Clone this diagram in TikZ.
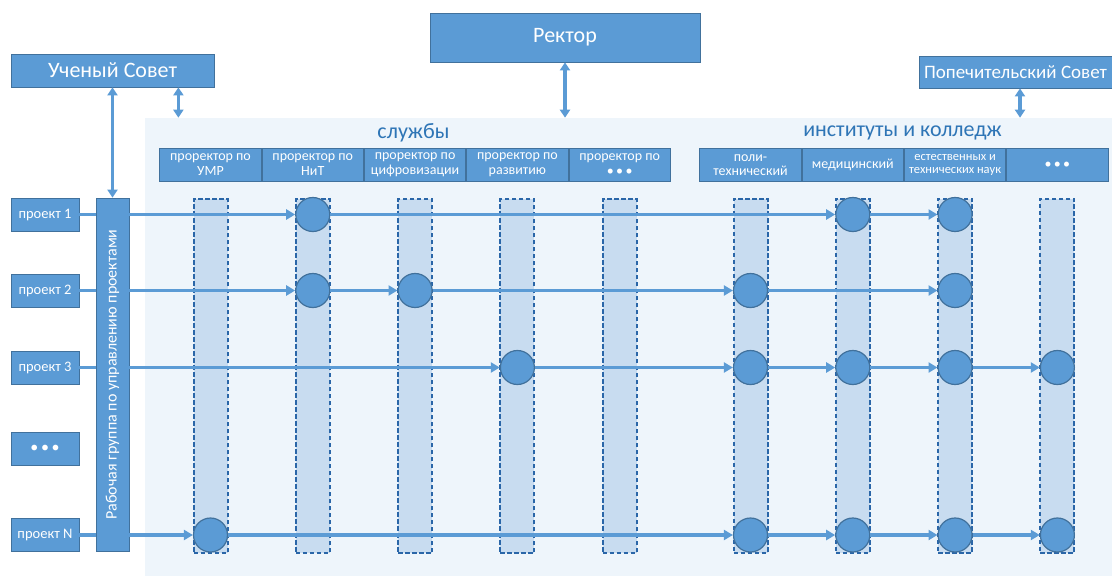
\documentclass[tikz,border=0pt]{standalone}
\usepackage{fontspec}
\setmainfont{Carlito}
\usetikzlibrary{arrows.meta,positioning,calc}
\definecolor{boxblue}{HTML}{5B9BD5}
\definecolor{boxline}{HTML}{41719C}
\definecolor{panelfill}{HTML}{EEF5FB}
\definecolor{lanefill}{HTML}{C8DCF0}
\definecolor{laneline}{HTML}{2A66A8}
\definecolor{titleblue}{HTML}{2E75B6}

\begin{document}
\begin{tikzpicture}[x=1pt, y=-1pt, semithick, node distance=0pt, >={Triangle[length=9pt,width=10pt]}]
	\tikzstyle{box}=[draw=boxline, fill=boxblue, text=white, inner sep=0pt, line width=0.8pt]
	\tikzstyle{head}=[box, minimum width=101.5pt, minimum height=33pt, align=center, font=\fontsize{14}{14.5}\selectfont]
	\tikzstyle{proj}=[box, minimum width=68pt, minimum height=33pt, font=\fontsize{14.5}{15}\selectfont]
	\tikzstyle{lane}=[draw=laneline, fill=lanefill, dash pattern=on 4.5pt off 2.5pt, line width=2pt, minimum width=34pt, minimum height=354pt, inner sep=0pt]
	\tikzstyle{task}=[circle, draw=boxline, fill=boxblue, line width=1.2pt, minimum size=34pt, inner sep=0pt]
	\tikzstyle{flow}=[->, draw=boxblue, line width=3.2pt]
	\tikzstyle{link}=[<->, draw=boxblue, line width=3.2pt, >={Triangle[length=8pt,width=10pt]}]

	\useasboundingbox (0,0) rectangle (1112,576);
	\node[fill=panelfill, minimum width=967pt, minimum height=458pt, inner sep=0pt] (panel) at (628.5,347) {};

	% top level
	\node[box, minimum width=270pt, minimum height=49pt, font=\fontsize{22}{22}\selectfont] (rektor) at (565,37.5) {Ректор};
	\node[box, minimum width=203pt, minimum height=33pt, font=\fontsize{22}{22}\selectfont] (us) at (112.5,70.5) {Ученый Совет};
	\node[box, minimum width=193pt, minimum height=32pt, font=\fontsize{19}{19}\selectfont] (ps) at (1015.5,72) {Попечительский Совет};

	\node[text=titleblue, font=\fontsize{22}{22}\selectfont] (sl) at (413.5,133) {службы};
	\node[text=titleblue, font=\fontsize{22}{22}\selectfont] (inst) at (902.5,133) {институты и колледж};

	% services and institutes
	\node[head] (s1) at (210.5,164.5) {проректор по\\УМР};
	\node[head, right=of s1] (s2) {проректор по\\НиТ};
	\node[head, right=of s2] (s3) {проректор по\\цифровизации};
	\node[head, right=of s3] (s4) {проректор по\\развитию};
	\node[head, right=of s4] (s5) {проректор по\\•\,•\,•};
	\node[head] (i1) at (750.5,165) {поли-\\технический};
	\node[head, right=of i1] (i2) {медицинский};
	\node[head, right=of i2, font=\fontsize{12.5}{13}\selectfont] (i3) {естественных и\\технических наук};
	\node[head, right=of i3] (i4) {•\,•\,•};

	\node[lane, below=17pt of s1] (l1) {};
	\node[lane, below=17pt of s2] (l2) {};
	\node[lane, below=17pt of s3] (l3) {};
	\node[lane, below=17pt of s4] (l4) {};
	\node[lane, below=17pt of s5] (l5) {};
	\node[lane, below=16pt of i1] (l6) {};
	\node[lane, below=16pt of i2] (l7) {};
	\node[lane, below=16pt of i3] (l8) {};
	\node[lane, below=16pt of i4] (l9) {};

	% projects
	\node[proj] (p1) at (45,214.5) {проект 1};
	\node[proj] (p2) at (45,290.5) {проект 2};
	\node[proj] (p3) at (45,367.5) {проект 3};
	\node[proj, font=\fontsize{16}{16}\selectfont] (pd) at (45,449) {•\,•\,•};
	\node[proj] (pN) at (45,535) {проект N};
	\node[box, minimum width=33pt, minimum height=353pt, font=\fontsize{16}{16}\selectfont] (wg) at (112.5,374.5) {\rotatebox{90}{Рабочая группа по управлению проектами}};

	\draw[link] (rektor) -- (rektor |- panel.north);
	\draw[link] (wg.north |- us.south) -- (wg.north);
	\coordinate (usr) at ($(us.south east)+(-36,0)$);
	\draw[link] (usr) -- (usr |- panel.north);
	\coordinate (psr) at ($(ps.south)+(4.5,0)$);
	\draw[link] (psr) -- (psr |- panel.north);

	\foreach \p in {p1,p2,p3,pN}
		\draw[boxblue, line width=3.2pt] (\p) -- (\p -| wg.west);

	% tasks
	\node[task] (t12) at (l2 |- p1) {};
	\node[task] (t17) at (l7 |- p1) {};
	\node[task] (t18) at (l8 |- p1) {};
	\node[task] (t22) at (l2 |- p2) {};
	\node[task] (t23) at (l3 |- p2) {};
	\node[task] (t26) at (l6 |- p2) {};
	\node[task] (t28) at (l8 |- p2) {};
	\node[task] (t34) at (l4 |- p3) {};
	\node[task] (t36) at (l6 |- p3) {};
	\node[task] (t37) at (l7 |- p3) {};
	\node[task] (t38) at (l8 |- p3) {};
	\node[task] (t39) at (l9 |- p3) {};
	\node[task] (tN1) at (l1 |- pN) {};
	\node[task] (tN6) at (l6 |- pN) {};
	\node[task] (tN7) at (l7 |- pN) {};
	\node[task] (tN8) at (l8 |- pN) {};
	\node[task] (tN9) at (l9 |- pN) {};

	\path
		(p1 -| wg.east) edge[flow] (t12)
		(t12) edge[flow] (t17)
		(t17) edge[flow] (t18)
		(p2 -| wg.east) edge[flow] (t22)
		(t22) edge[flow] (t23)
		(t23) edge[flow] (t26)
		(t26) edge[flow] (t28)
		(p3 -| wg.east) edge[flow] (t34)
		(t34) edge[flow] (t36)
		(t36) edge[flow] (t37)
		(t37) edge[flow] (t38)
		(t38) edge[flow] (t39)
		(pN -| wg.east) edge[flow] (tN1)
		(tN1) edge[flow] (tN6)
		(tN6) edge[flow] (tN7)
		(tN7) edge[flow] (tN8)
		(tN8) edge[flow] (tN9);
\end{tikzpicture}
\end{document}
